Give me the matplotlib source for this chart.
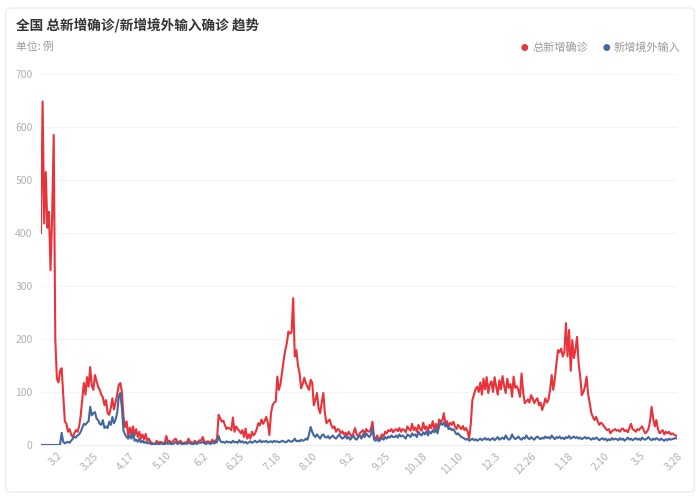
import matplotlib
matplotlib.use("Agg")
import matplotlib.pyplot as plt
from matplotlib.patches import FancyBboxPatch
import numpy as np
import pandas as pd

plt.rcParams["font.family"] = ["Noto Sans CJK SC", "DejaVu Sans"]

# daily values, 2020-02-21 .. 2021-03-28
dates = pd.date_range("2020-02-21", "2021-03-28", freq="D")

total_new = (
    # 2020 Feb 21-29
    [400, 648, 418, 515, 410, 440, 330, 430, 585]
    # Mar
    + [200, 125, 118, 140, 145, 95, 45, 40, 25, 30, 20, 15, 22, 28, 25, 35,
       55, 85, 117, 95, 128, 110, 147, 112, 104, 132, 121, 110, 104, 95, 90]
    # Apr
    + [75, 85, 60, 57, 70, 88, 67, 80, 95, 113, 117, 100, 53, 34, 44, 16,
       33, 20, 35, 18, 30, 15, 25, 12, 20, 10, 21, 8, 12, 6]
    # May
    + [4, 2, 3, 8, 3, 6, 5, 4, 3, 17, 6, 8, 4, 6, 10, 12, 5, 6, 8, 3, 4, 5,
       5, 12, 6, 5, 4, 8, 4, 6, 9]
    # Jun
    + [8, 15, 6, 5, 7, 6, 4, 10, 6, 8, 12, 57, 50, 44, 46, 37, 30, 33, 31,
       28, 52, 25, 35, 30, 27, 22, 28, 15, 31, 12]
    # Jul
    + [20, 12, 25, 18, 22, 30, 41, 37, 48, 40, 45, 53, 42, 19, 60, 75, 80,
       82, 129, 104, 115, 138, 160, 179, 192, 214, 210, 213, 277, 167, 179]
    # Aug
    + [150, 136, 107, 115, 127, 117, 110, 104, 123, 118, 75, 85, 98, 70, 60,
       80, 98, 60, 41, 45, 48, 38, 32, 35, 25, 30, 29, 22, 26, 20, 23]
    # Sep
    + [18, 25, 20, 15, 22, 32, 20, 16, 22, 25, 28, 20, 30, 26, 25, 30, 44,
       15, 12, 18, 10, 14, 20, 16, 25, 22, 28, 26, 30, 24]
    # Oct
    + [28, 30, 26, 32, 25, 30, 28, 24, 35, 30, 27, 40, 28, 33, 25, 38, 30,
       27, 42, 30, 35, 26, 38, 32, 45, 30, 40, 28, 48, 44, 46]
    # Nov
    + [60, 40, 45, 35, 42, 38, 44, 35, 30, 38, 34, 30, 36, 28, 32, 25, 13,
       40, 85, 95, 105, 110, 100, 118, 95, 125, 105, 128, 98, 115]
    # Dec
    + [120, 100, 128, 110, 95, 122, 105, 130, 112, 98, 125, 108, 115, 91,
       129, 108, 111, 104, 91, 135, 100, 79, 82, 86, 80, 94, 88, 79, 85, 88, 75]
    # 2021 Jan
    + [80, 66, 75, 88, 80, 86, 104, 132, 104, 125, 154, 179, 175, 182, 167,
       175, 230, 167, 217, 140, 198, 164, 180, 204, 154, 129, 94, 100, 110,
       129, 95]
    # Feb
    + [79, 60, 53, 47, 53, 45, 38, 42, 40, 35, 31, 28, 30, 22, 26, 28, 30,
       27, 28, 25, 30, 31, 26, 28, 24, 32, 40, 30]
    # Mar
    + [28, 25, 30, 28, 32, 35, 28, 22, 25, 30, 45, 72, 50, 35, 47, 30, 22,
       25, 28, 20, 25, 22, 25, 20, 22, 20, 18, 17]
)

imported_new = (
    [0, 0, 0, 0, 0, 0, 0, 0, 0]
    + [0, 0, 0, 0, 23, 6, 3, 5, 6, 4, 8, 12, 16, 14, 18, 20, 25, 32, 40, 38,
       42, 45, 72, 56, 60, 62, 50, 47, 40, 38, 47]
    + [32, 35, 32, 44, 38, 53, 41, 48, 60, 91, 98, 70, 27, 20, 15, 12, 18,
       12, 24, 8, 10, 6, 12, 5, 8, 4, 6, 3, 5, 2]
    + [2, 1, 2, 3, 1, 2, 3, 2, 1, 5, 2, 4, 1, 2, 3, 6, 2, 3, 4, 1, 2, 3, 2,
       5, 3, 2, 1, 4, 2, 3, 5]
    + [4, 6, 3, 2, 4, 3, 2, 5, 3, 4, 6, 17, 8, 5, 6, 4, 7, 5, 6, 4, 8, 5, 6,
       4, 9, 5, 7, 4, 6, 3]
    + [5, 7, 4, 6, 8, 5, 6, 9, 5, 7, 6, 8, 5, 6, 7, 5, 8, 6, 7, 5, 6, 8, 7,
       5, 6, 9, 7, 6, 8, 12, 7]
    + [8, 7, 10, 8, 9, 12, 10, 20, 34, 25, 18, 15, 20, 16, 12, 18, 20, 15,
       14, 17, 12, 15, 18, 14, 12, 16, 20, 15, 12, 14, 18]
    + [12, 15, 10, 14, 18, 12, 10, 15, 18, 12, 20, 15, 22, 18, 15, 20, 32,
       10, 8, 12, 7, 10, 14, 10, 15, 12, 16, 14, 18, 15]
    + [15, 18, 14, 20, 16, 18, 15, 12, 20, 18, 15, 22, 18, 20, 15, 25, 20,
       18, 24, 20, 26, 18, 25, 22, 28, 24, 30, 22, 35, 42, 38]
    + [42, 35, 38, 30, 32, 28, 30, 25, 20, 22, 18, 15, 14, 12, 10, 12, 8, 10,
       12, 9, 11, 8, 10, 12, 9, 11, 13, 10, 12, 9]
    + [11, 13, 9, 12, 15, 10, 12, 14, 11, 18, 13, 10, 12, 20, 14, 11, 13, 16,
       12, 10, 14, 12, 18, 13, 11, 15, 12, 10, 14, 16, 13]
    + [11, 14, 12, 16, 13, 15, 12, 18, 14, 11, 15, 13, 16, 12, 14, 11, 15,
       13, 17, 12, 14, 16, 13, 15, 12, 14, 11, 13, 15, 12, 14]
    + [12, 10, 13, 11, 14, 12, 9, 11, 13, 10, 12, 8, 11, 9, 13, 10, 12, 11,
       9, 13, 10, 12, 8, 11, 14, 10, 12, 9]
    + [11, 13, 10, 12, 9, 14, 11, 10, 12, 15, 11, 9, 12, 10, 13, 11, 9, 12,
       10, 8, 11, 9, 12, 10, 11, 12, 13, 12]
)

tick_labels = ["3.2", "3.25", "4.17", "5.10", "6.2", "6.25", "7.18", "8.10",
               "9.2", "9.25", "10.18", "11.10", "12.3", "12.26", "1.18",
               "2.10", "3.5", "3.28"]
y_ticks = [0, 100, 200, 300, 400, 500, 600, 700]

RED = "#e8333a"
BLUE = "#44679f"
GREY = "#b0b0b0"

fig = plt.figure(figsize=(7, 5), dpi=100)
fig.patch.set_facecolor("white")

# card outline behind everything
card = FancyBboxPatch((0.008, 0.016), 0.984, 0.968,
                      boxstyle="round,pad=0,rounding_size=0.008",
                      transform=fig.transFigure, facecolor="none",
                      edgecolor="#ececec", linewidth=1.0, zorder=-10)
fig.patches.append(card)

ax = fig.add_axes([0.0586, 0.11, 0.9085, 0.742])
ax.patch.set_alpha(0)
x = np.arange(len(dates))
ax.plot(x, total_new, color=RED, linewidth=1.5, zorder=3)
ax.plot(x, imported_new, color=BLUE, linewidth=1.5, zorder=4)

ax.set_xlim(0, len(dates) - 1)
ax.set_ylim(0, 700)
ax.set_yticks(y_ticks)
ax.set_yticklabels([str(v) for v in y_ticks], color=GREY, fontsize=7.5)
ax.grid(axis="y", color="#f4f4f4", linewidth=0.8)
ax.set_axisbelow(True)

tick_pos = list(range(10, len(dates), 23))
ax.set_xticks(tick_pos)
ax.set_xticklabels(tick_labels, rotation=45, ha="right", va="top",
                   rotation_mode="anchor", color=GREY, fontsize=7.5)
ax.tick_params(axis="both", length=0, pad=4)
ax.tick_params(axis="y", pad=6)

for side in ["top", "right", "left"]:
    ax.spines[side].set_visible(False)
ax.spines["bottom"].set_color("#eeeeee")

fig.text(0.023, 0.949, "全国 总新增确诊/新增境外输入确诊 趋势", fontsize=9.8,
         fontweight="bold", color="#333333", va="center")
fig.text(0.023, 0.907, "单位: 例", fontsize=7.8, color="#9a9a9a", va="center")

fig.text(0.749, 0.904, "●", fontsize=5.5, color=RED, va="center", ha="center")
fig.text(0.760, 0.904, "总新增确诊", fontsize=8, color="#9a9a9a", va="center")
fig.text(0.866, 0.904, "●", fontsize=5.5, color=BLUE, va="center", ha="center")
fig.text(0.876, 0.904, "新增境外输入", fontsize=8, color="#9a9a9a", va="center")

fig.savefig("out.png", dpi=100)
